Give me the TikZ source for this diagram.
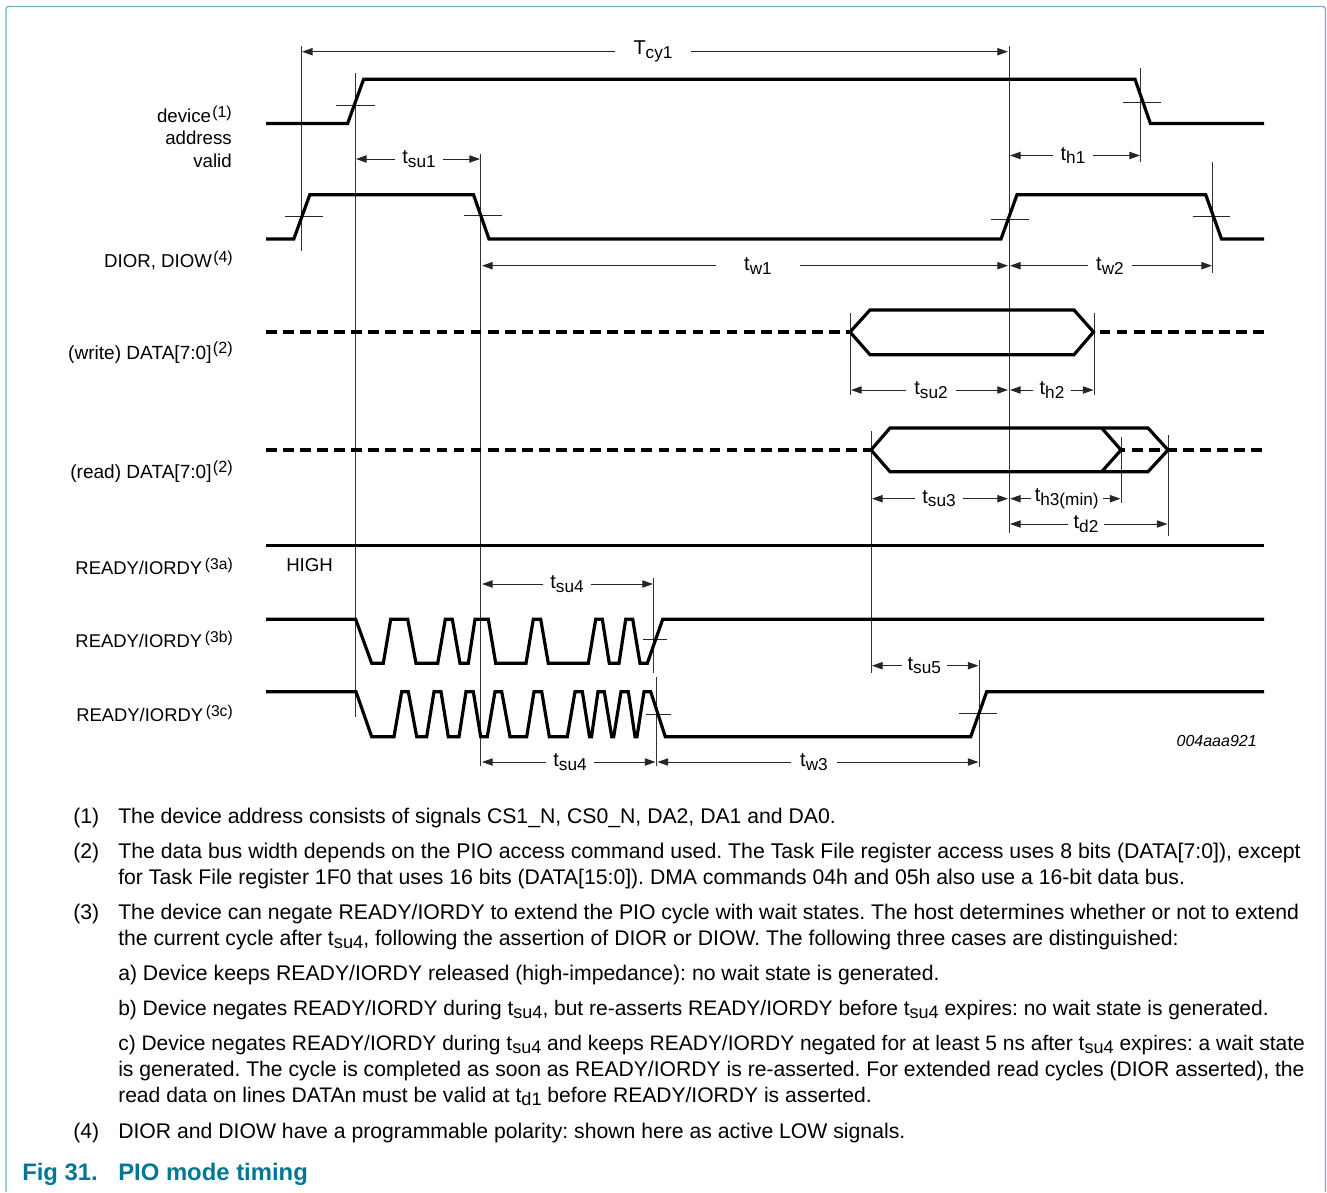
\documentclass[tikz,border=0pt]{standalone}
\usepackage{fontspec}
\setmainfont{Liberation Sans}
\usetikzlibrary{arrows.meta}
\definecolor{mteal}{rgb}{0.0, 0.47, 0.58}
\definecolor{mframe}{rgb}{0.45, 0.70, 0.77}
\newcommand{\lowtxt}[1]{\raisebox{-0.35ex}{\scalebox{0.86}{#1}}}
\newcommand{\hightxt}[1]{\kern1pt\raisebox{0.5ex}{\scalebox{0.85}{#1}}}
\newcommand{\sizeof}[1]{\fontsize{#1}{18}\selectfont}
\tikzset{signal/.style = {line width = 2.4pt, line join = miter}}
\tikzset{busline/.style = {line width = 2.4pt, dash pattern = on 8pt off 4.8pt}}
\tikzset{guide/.style = {line width = 0.75pt, black!80}}
\tikzset{tickmark/.style = {line width = 0.75pt, black!85}}
\tikzset{dimarrow/.style = {line width = 0.75pt, black!85, -{Triangle[length = 8pt, width = 5.5pt]}}}
\tikzset{dimlabel/.style = {inner ysep = 0, font = \fontsize{15}{17}\selectfont}}
\tikzset{siglabel/.style = {anchor = base east, inner sep = 0, font = \fontsize{14}{16}\selectfont}}
\tikzset{notetext/.style = {anchor = base west, inner sep = 0, font = \fontsize{15.9}{18}\selectfont}}
\begin{document}
\frenchspacing
\begin{tikzpicture}[x = 0.75pt, y = -0.75pt]
    \useasboundingbox (0, 0) rectangle (1327, 1192);

    \draw [mframe, line width = 1pt, rounded corners = 2pt] (6, 1192) -- (6, 6.5) -- (1325.5, 6.5) -- (1325.5, 1192);

    % guide lines
    \foreach \x/\ya/\yb in {301/46/251, 355.3/73/717, 480.7/154/766, 1009/46/533, 1140.7/68/162, 1212.5/162/273,
                            850/313/395, 1094/313/395, 871/431/673, 1121/437/503, 1168/435/536,
                            653.7/578/673, 656.3/677/766, 979/660/767} {
      \draw [guide] (\x, \ya) -- (\x, \yb);
    }

    % threshold ticks
    \foreach \xa/\xb/\y in {336/374.6/105, 1122.8/1161/102, 285/323/216, 464/502/215.6, 991/1029/219, 1192.5/1230/216.7,
                            643.3/667.3/639.3, 646/670.7/714, 959.3/996.7/713} {
      \draw [tickmark] (\xa, \y) -- (\xb, \y);
    }

    % signals
    \draw [signal] (266, 123.5) -- (347.6, 123.5) -- (363.6, 79.3) -- (1135, 79.3) -- (1150.4, 123.5) -- (1264, 123.5);
    \draw [signal] (266, 239) -- (293.8, 239) -- (309.8, 194.7) -- (473.5, 194.7) -- (489, 239) -- (1001, 239)
                   -- (1017, 194.7) -- (1205.7, 194.7) -- (1221.5, 239) -- (1264, 239);

    \draw [busline] (266, 332) -- (850, 332);
    \draw [busline] (1264, 332) -- (1094, 332);
    \draw [signal] (850, 332) -- (870, 310) -- (1074, 310) -- (1093.5, 332) -- (1074, 354.7) -- (870, 354.7) -- cycle;

    \draw [busline] (266, 450) -- (871, 450);
    \draw [busline] (1262, 450) -- (1121, 450);
    \draw [signal] (871, 450) -- (890, 428) -- (1148, 428) -- (1168, 450) -- (1148, 471.7) -- (890, 471.7) -- cycle;
    \draw [signal] (1101.7, 428) -- (1121, 450) -- (1101.7, 471.7);

    \draw [signal] (266, 545.5) -- (1264, 545.5);

    \draw [signal] (266, 619.3) -- (355.7, 619.3) -- (371.7, 663.3) -- (383.3, 663.3) -- (390.7, 619.3) -- (407.7, 619.3)
                   -- (416, 663.3) -- (437.7, 663.3) -- (445.3, 619.3) -- (452.3, 619.3) -- (460, 663.3) -- (468.3, 663.3)
                   -- (475, 619.3) -- (488.3, 619.3) -- (495.7, 663.3) -- (526, 663.3) -- (533.3, 619.3) -- (540.7, 619.3)
                   -- (548.3, 663.3) -- (588.3, 663.3) -- (595.7, 619.3) -- (602.3, 619.3) -- (609.3, 663.3) -- (619, 663.3)
                   -- (625.7, 619.3) -- (632.7, 619.3) -- (640, 663.3) -- (647.3, 663.3) -- (662.7, 619.3) -- (1264, 619.3);

    \draw [signal] (266, 691.7) -- (356, 691.7) -- (371.7, 736.7) -- (394, 736.7) -- (401.7, 691.7) -- (408.3, 691.7)
                   -- (416.7, 736.7) -- (426.7, 736.7) -- (434, 691.7) -- (441, 691.7) -- (448.3, 736.7) -- (459, 736.7)
                   -- (466, 691.7) -- (473.3, 691.7) -- (480.7, 736.7) -- (487.3, 736.7) -- (495, 691.7) -- (501.7, 691.7)
                   -- (510, 736.7) -- (526.7, 736.7) -- (534, 691.7) -- (541.7, 691.7) -- (549.3, 736.7) -- (567.3, 736.7)
                   -- (575, 691.7) -- (582.3, 691.7) -- (589.5, 736.7) -- (591.5, 736.7) -- (598, 691.7) -- (604.3, 691.7)
                   -- (611.7, 736.7) -- (613.7, 736.7) -- (621, 691.7) -- (628.3, 691.7) -- (635, 736.7) -- (637, 736.7)
                   -- (644, 691.7) -- (650.7, 691.7) -- (665.3, 736.7) -- (970.7, 736.7) -- (986.7, 691.7) -- (1264, 691.7);

    % timing labels with their arrows
    \foreach \nm/\xa/\xb/\y/\xl/\gap/\lab in {tcyone/302/1008/51.7/653/14/{T\lowtxt{cy1}},
                                              tsuone/356/480/159/419/5/{t\lowtxt{su1}},
                                              thone/1010/1140/155.5/1073/5.5/{t\lowtxt{h1}},
                                              twone/482/1008/265.7/758/21/{t\lowtxt{w1}},
                                              twtwo/1010/1212/265.7/1110/6/{t\lowtxt{w2}},
                                              tsutwo/851/1008/390/931/6/{t\lowtxt{su2}},
                                              thtwo/1010/1093.5/390/1052/4.5/{t\lowtxt{h2}},
                                              tsuthree/872/1008/498.7/939/5/{t\lowtxt{su3}},
                                              ththree/1010/1120.5/498.7/1066.7/3/{t\lowtxt{h3(min)}},
                                              tdtwo/1010/1167.5/524/1086/4/{t\lowtxt{d2}},
                                              tsufour/482/653/584/567/5/{t\lowtxt{su4}},
                                              tsufourb/482/655.5/762/570/5/{t\lowtxt{su4}},
                                              tsufive/872/978.5/665.7/924.3/4/{t\lowtxt{su5}},
                                              twthree/657.5/978.5/762/814/7/{t\lowtxt{w3}}} {
      \node [dimlabel, inner xsep = \gap pt] (\nm) at (\xl, \y) {\lab};
      \coordinate (\nm-a) at (\xa, \y);
      \coordinate (\nm-b) at (\xb, \y);
      \draw [dimarrow] (\nm) -- (\nm-a);
      \draw [dimarrow] (\nm) -- (\nm-b);
    }

    % signal names
    \foreach \nm/\x/\y/\lab in {sigdevice/232/122/{device\hightxt{(1)}},
                                sigaddress/232/144/{address},
                                sigvalid/232/167/{valid},
                                sigdior/233/267/{DIOR, DIOW\hightxt{(4)}},
                                sigwrite/233/359/{\sizeof{14.3}(write) DATA[7:0]\hightxt{(2)}},
                                sigread/233/478/{\sizeof{14.3}(read) DATA[7:0]\hightxt{(2)}},
                                sigreadya/233/574.5/{\sizeof{13.8}READY/IORDY\kern1pt\hightxt{(3a)}},
                                sigreadyb/233/647/{\sizeof{13.8}READY/IORDY\kern1pt\hightxt{(3b)}},
                                sigreadyc/233/721.7/{\sizeof{13.8}READY/IORDY\kern1pt\hightxt{(3c)}}} {
      \node [siglabel] (\nm) at (\x, \y) {\lab};
    }
    \node [siglabel, anchor = base west] (high) at (286, 571) {HIGH};
    \node [anchor = base east, inner sep = 0, font = \fontsize{12}{14}\selectfont\itshape] (figcode) at (1257, 746) {004aaa921};

    % notes
    \foreach \nm/\x/\y/\lab in {numone/73/823/{(1)},
                                noteone/118/823/{The device address consists of signals CS1\_N, CS0\_N, DA2, DA1 and DA0.},
                                numtwo/73/858/{(2)},
                                notetwo/118/858/{\sizeof{15.95}The data bus width depends on the PIO access command used. The Task File register access uses 8 bits (DATA[7:0]), except},
                                notetwob/118/884/{for Task File register 1F0 that uses 16 bits (DATA[15:0]). DMA commands 04h and 05h also use a 16-bit data bus.},
                                numthree/73/919/{(3)},
                                notethree/118/919/{The device can negate READY/IORDY to extend the PIO cycle with wait states. The host determines whether or not to extend},
                                notethreeb/118/945/{the current cycle after t\lowtxt{su4}, following the assertion of DIOR or DIOW. The following three cases are distinguished:},
                                notea/118/980/{a) Device keeps READY/IORDY released (high-impedance): no wait state is generated.},
                                noteb/118/1015/{\sizeof{15.73}b) Device negates READY/IORDY during t\lowtxt{su4}, but re-asserts READY/IORDY before t\lowtxt{su4} expires: no wait state is generated.},
                                notec/118/1050/{\sizeof{15.73}c) Device negates READY/IORDY during t\lowtxt{su4} and keeps READY/IORDY negated for at least 5 ns after t\lowtxt{su4} expires: a wait state},
                                notecb/118/1076/{\sizeof{15.85}is generated. The cycle is completed as soon as READY/IORDY is re-asserted. For extended read cycles (DIOR asserted), the},
                                notecc/118/1102/{\sizeof{15.8}read data on lines DATAn must be valid at t\lowtxt{d1} before READY/IORDY is asserted.},
                                numfour/73/1138/{(4)},
                                notefour/118/1138/{DIOR and DIOW have a programmable polarity: shown here as active LOW signals.}} {
      \node [notetext] (\nm) at (\x, \y) {\lab};
    }

    \node [notetext, mteal, font = \fontsize{17.9}{20}\selectfont\bfseries] (fignum) at (22, 1180) {Fig 31.};
    \node [notetext, mteal, font = \fontsize{17.9}{20}\selectfont\bfseries] (figtitle) at (118, 1180) {PIO mode timing};
  \end{tikzpicture}
\end{document}
